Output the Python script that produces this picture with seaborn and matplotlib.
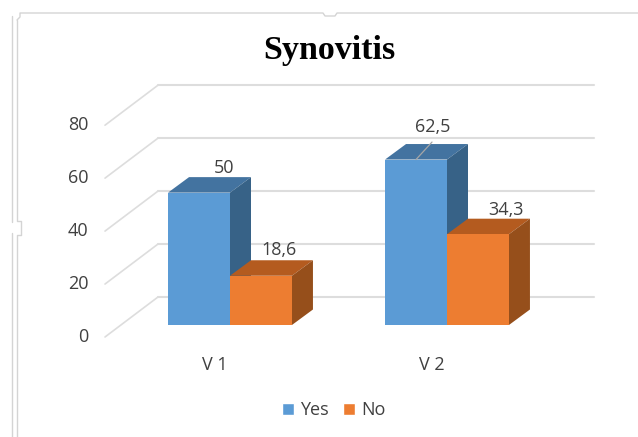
import matplotlib
matplotlib.use("Agg")
import matplotlib.pyplot as plt
import matplotlib.transforms as mtrans
from matplotlib.lines import Line2D
from matplotlib.patches import Polygon
import pandas as pd
import seaborn as sns

categories = ["V 1", "V 2"]
series_names = ["Yes", "No"]
yes_values = [50, 62.5]
no_values = [18.6, 34.3]
value_labels = [["50", "62,5"], ["18,6", "34,3"]]
y_ticks = [0, 20, 40, 60, 80]

W, H = 638, 437
front = ["#5B9BD5", "#ED7D31"]
top = ["#4373A0", "#B45B1F"]
side = ["#376287", "#964F1B"]
text_c = "#404040"
grid_c = "#DDDDDD"
FS = 13

sns.set_theme(style="white")
plt.rcParams["font.family"] = ["Open Sans", "DejaVu Sans"]

df = pd.DataFrame({
    "cat": categories * 2,
    "series": [series_names[0]] * 2 + [series_names[1]] * 2,
    "val": yes_values + no_values,
})

fig = plt.figure(figsize=(W / 100, H / 100), dpi=100)
L, R, B, T = 121.5, 555.5, 325, 113.2
ax = fig.add_axes([L / W, (H - B) / H, (R - L) / W, (B - T) / H])
sns.barplot(data=df, x="cat", y="val", hue="series", order=categories,
            hue_order=series_names, palette=front, width=0.571, gap=0,
            saturation=1, ax=ax, zorder=3, errorbar=None)
ax.set_xlim(-0.5, 1.5)
ax.set_ylim(0, 80)
ax.patch.set_alpha(0)
sns.despine(ax=ax, left=True, bottom=True, top=True, right=True)
ax.set_xlabel("")
ax.set_ylabel("")


def px(dx, dy):
    return mtrans.ScaledTranslation(dx / 100, -dy / 100, fig.dpi_scale_trans)


# back wall gridlines and floor diagonals
blend = ax.get_yaxis_transform()
xf = lambda p: (p - L) / (R - L)
for v in y_ticks:
    ax.plot([xf(158), xf(594)], [v, v], transform=blend + px(0, -28),
            color=grid_c, lw=1.5, zorder=1, clip_on=False)
    a = ax.transData.transform((0, v))[1]
    ax.add_line(Line2D([105, 158], [a - 12, a + 28], transform=None,
                       color=grid_c, lw=1.2, zorder=1, clip_on=False))

# depth faces
ddx = 21 / ((R - L) / 2)
ddy = 15.5 / ((B - T) / 80)
for i, cont in enumerate(ax.containers):
    for bar in cont:
        x0, w, h = bar.get_x(), bar.get_width(), bar.get_height()
        bar.set_edgecolor("none")
        z = 2.5 + i * 0.3
        ax.add_patch(Polygon([(x0, h), (x0 + w, h), (x0 + w + ddx, h + ddy), (x0 + ddx, h + ddy)],
                             fc=top[i], ec="none", zorder=z, clip_on=False))
        ax.add_patch(Polygon([(x0 + w, 0), (x0 + w + ddx, ddy), (x0 + w + ddx, h + ddy), (x0 + w, h)],
                             fc=side[i], ec="none", zorder=z, clip_on=False))

# data labels
label_offsets = [[(25, -25), (17, -33)], [(18, -26), (28, -24)]]
for i, cont in enumerate(ax.containers):
    for j, bar in enumerate(cont):
        ox, oy = label_offsets[i][j]
        ax.annotate(value_labels[i][j],
                    (bar.get_x() + bar.get_width() / 2, bar.get_height()),
                    xytext=(ox * 0.72, -oy * 0.72), textcoords="offset points",
                    ha="center", va="center", fontsize=FS, color=text_c, zorder=6)
lead = ax.containers[0][1]
cx = lead.get_x() + lead.get_width() / 2
ax.annotate("", (cx, lead.get_height()), xytext=(16 * 0.72, 17.5 * 0.72),
            textcoords="offset points",
            arrowprops=dict(arrowstyle="-", color="#A6A6A6", lw=0.9, shrinkA=0, shrinkB=0),
            zorder=6)

# tick labels
ax.set_yticks(y_ticks)
ax.set_yticklabels([str(v) for v in y_ticks], fontsize=FS, color=text_c)
ax.tick_params(axis="both", length=0)
ax.tick_params(axis="y", pad=24)
for lab in ax.get_yticklabels():
    lab.set_transform(lab.get_transform() + px(0, 10))
ax.tick_params(axis="x", pad=22, labelsize=FS, labelcolor=text_c)
for lab in ax.get_xticklabels():
    lab.set_transform(lab.get_transform() + px(-15, 0))

# title
fig.text(329.5 / W, 1 - 50 / H, "Synovitis", family="Liberation Serif", weight="bold",
         fontsize=24.5, color="black", ha="center", va="center")

# legend
sns.move_legend(ax, "center", bbox_to_anchor=(334 / W, 1 - 410 / H),
                bbox_transform=fig.transFigure, ncol=2, frameon=False, title=None,
                fontsize=FS, handlelength=0.65, handleheight=0.65, handletextpad=0.35,
                columnspacing=0.8, labelcolor=text_c)

# chart frame
frame_c = "#D4D4D4"
frame_paths = [
    ([11.5, 11.5], [16, 222]), ([11.5, 11.5], [233, 437]),
    ([17, 17, 21, 21, 17, 17], [20, 221, 221, 235, 235, 437]),
    ([17, 20, 20, 323, 325, 335, 337, 638], [20, 17, 13, 13, 16, 16, 13, 13]),
]
for xs, ys in frame_paths:
    fig.add_artist(Line2D([x / W for x in xs], [1 - y / H for y in ys],
                          color=frame_c, lw=1.0))

fig.savefig("out.png", dpi=100, facecolor="white")
